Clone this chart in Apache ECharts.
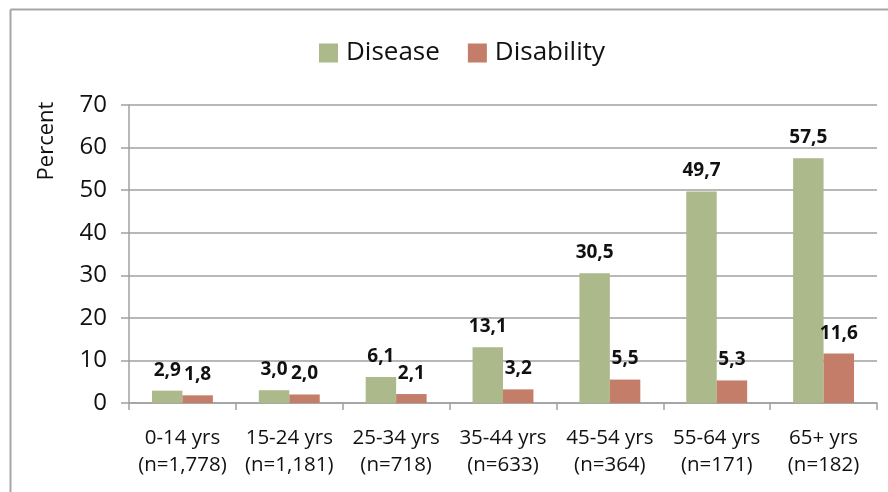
<!DOCTYPE html>
<html>
<head>
<meta charset="utf-8">
<script src="https://cdn.jsdelivr.net/npm/echarts@6/dist/echarts.min.js"></script>
<style>html,body{margin:0;padding:0;background:#fff}#c{width:888px;height:492px}</style>
</head>
<body>
<div id="c"></div>
<script>
var categories = ['0-14 yrs\n(n=1,778)', '15-24 yrs\n(n=1,181)', '25-34 yrs\n(n=718)', '35-44 yrs\n(n=633)', '45-54 yrs\n(n=364)', '55-64 yrs\n(n=171)', '65+ yrs\n(n=182)'];
var disease = [2.9, 3.0, 6.1, 13.1, 30.5, 49.7, 57.5];
var disability = [1.8, 2.0, 2.1, 3.2, 5.5, 5.3, 11.6];
var yTicks = [0, 10, 20, 30, 40, 50, 60, 70];

var FONT = '"Open Sans", sans-serif';
var chart = echarts.init(document.getElementById('c'), null, {renderer: 'canvas'});
function fmt(p) { return p.value.toFixed(1).replace('.', ','); }
var labelStyle = {show: true, position: 'top', distance: 11, formatter: fmt, fontFamily: FONT, fontSize: 19, fontWeight: 'bold', color: '#111'};
chart.setOption({
  animation: false,
  backgroundColor: '#fff',
  legend: {
    left: 314, top: 35,
    itemWidth: 19, itemHeight: 19, itemGap: 28,
    icon: 'rect',
    textStyle: {fontFamily: FONT, fontSize: 26, color: '#111', padding: [0, 0, 0, 3]},
    data: ['Disease', 'Disability']
  },
  grid: {left: 129, right: 11, top: 105, bottom: 89, containLabel: false},
  xAxis: {
    type: 'category',
    data: categories,
    axisLine: {lineStyle: {color: '#a0a0a0', width: 1.5}},
    axisTick: {show: true, length: 7, lineStyle: {color: '#a0a0a0', width: 1.5}},
    axisLabel: {fontFamily: FONT, fontSize: 20.5, color: '#111', lineHeight: 27, margin: 22, interval: 0}
  },
  yAxis: {
    type: 'value', min: yTicks[0], max: yTicks[yTicks.length - 1], interval: 10,
    axisLine: {show: true, lineStyle: {color: '#a0a0a0', width: 1.5}},
    axisTick: {show: true, length: 8, lineStyle: {color: '#a0a0a0', width: 1.5}},
    splitLine: {lineStyle: {color: '#a0a0a0', width: 1.5}},
    axisLabel: {fontFamily: FONT, fontSize: 24, color: '#111', margin: 22}
  },
  graphic: [
    {type: 'line', shape: {x1: 10.5, y1: 9.5, x2: 888, y2: 9.5}, style: {stroke: '#a6a6a6', lineWidth: 2}},
    {type: 'line', shape: {x1: 10.5, y1: 9.5, x2: 10.5, y2: 492}, style: {stroke: '#a6a6a6', lineWidth: 2}},
    {type: 'text', x: 47, y: 141, rotation: Math.PI / 2,
     style: {text: 'Percent', fontFamily: FONT, fontSize: 22, fill: '#111', textAlign: 'center', textVerticalAlign: 'middle'}}
  ],
  series: [
    {name: 'Disease', type: 'bar', data: disease, barWidth: '28.5%', barGap: '0%',
     itemStyle: {color: '#abb98b'}, label: labelStyle},
    {name: 'Disability', type: 'bar', data: disability, barWidth: '28.5%', barGap: '0%',
     itemStyle: {color: '#c37d69'}, label: labelStyle}
  ]
});
</script>
</body>
</html>
